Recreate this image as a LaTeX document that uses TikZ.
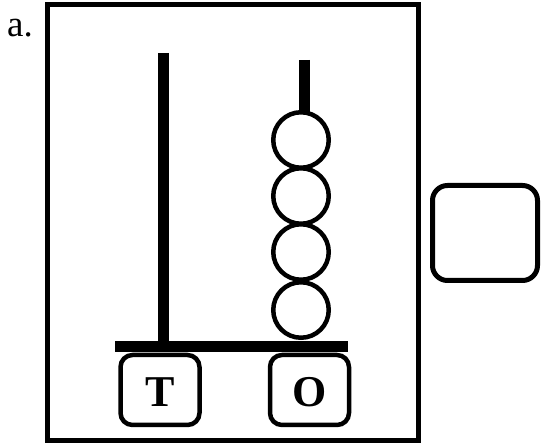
\documentclass[tikz,border=0pt]{standalone}
\usepackage{fontspec}
\setmainfont{Liberation Serif}
\begin{document}
\begin{tikzpicture}[x=1pt,y=-1pt,
  frame/.style={draw=black,line width=5pt},
  rod/.style={line width=11pt,line cap=butt},
  bead/.style={circle,draw=black,line width=4.5pt,fill=white,minimum size=55.5pt,inner sep=0pt},
  placebox/.style={draw=black,line width=4.5pt,rounded corners=12pt,fill=white,minimum width=79pt,minimum height=70pt,inner sep=0pt,font=\fontsize{44}{46}\selectfont\bfseries},
  answerbox/.style={draw=black,line width=5pt,rounded corners=15pt,minimum width=105pt,minimum height=95pt,inner sep=0pt}]
\useasboundingbox (0,0) rectangle (544,443);
\node[anchor=base west,inner sep=0pt,font=\fontsize{37}{40}\selectfont] (lab) at (7,37) {a.};
\draw[frame] (47.5,5) rectangle (418,440.5);
% rods
\coordinate (ltop) at (163,53);
\coordinate (lbot) at (163,342);
\coordinate (rtop) at (304,60);
\coordinate (rbot) at (304,115);
\draw[rod] (ltop) -- (lbot);
\draw[rod] (rtop) -- (rbot);
% base bar
\coordinate (bl) at (115,346.5);
\coordinate (br) at (348,346.5);
\draw[line width=11pt] (bl) -- (br);
% beads
\node[bead] (b1) at (301,140) {};
\node[bead] (b2) at (301,196) {};
\node[bead] (b3) at (301,252) {};
\node[bead] (b4) at (301,310) {};
% place boxes
\node[placebox] (T) at (160,390) {};
\node[placebox] (O) at (309.5,390) {};
\node[anchor=base,inner sep=0pt,font=\fontsize{44}{46}\selectfont\bfseries] (Tl) at (T.center |- 0,407) {T};
\node[anchor=base,inner sep=0pt,font=\fontsize{44}{46}\selectfont\bfseries] (Ol) at (310,407) {O};
% answer box
\node[answerbox] (ans) at (485,233) {};
\end{tikzpicture}
\end{document}
